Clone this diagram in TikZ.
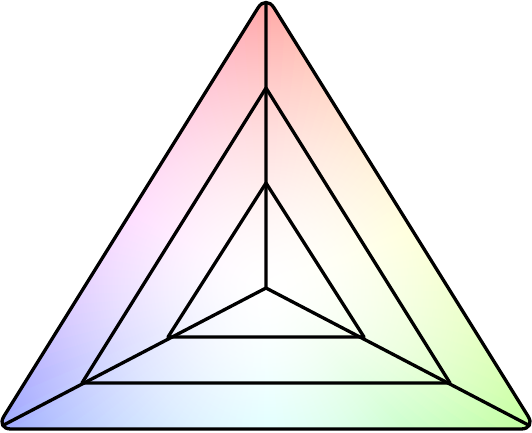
\documentclass[tikz,border=0pt]{standalone}
\usetikzlibrary{calc}
\begin{document}
\begin{tikzpicture}[x=1bp,y=-1bp,line width=3.3bp,line join=round,
  edge/.style={draw=black},
  outer/.style={draw=black,rounded corners=15bp},
  layer/.style={inner sep=0pt,outer sep=0pt,anchor=center}]
\useasboundingbox (0,0) rectangle (532,433);
\coordinate (O) at (266,288);
\coordinate (A1) at (266,-5);
\coordinate (B1) at (-4,429);
\coordinate (C1) at (536,429);
\coordinate (A2) at (266,88);
\coordinate (B2) at (82,383);
\coordinate (C2) at (450,383);
\coordinate (A3) at (266,183);
\coordinate (B3) at (168,337);
\coordinate (C3) at (364,337);
\begin{scope}
  \clip[rounded corners=15bp] ($(A1)!0.5!(B1)$) -- (B1) -- (C1) -- (A1) -- cycle;
  \fill[white] (-10,-10) rectangle (545,445);
  \foreach \k in {0,...,119}{%
    \pgfmathsetmacro\al{mod(3*\k+90,360)}%
    \pgfmathsetmacro\hu{\al<60 ? \al/60*53 : (\al<118 ? 53+(\al-60)/58*44 : (\al<180 ? 97+(\al-118)/62*83 : (\al<242 ? 180+(\al-180)/62*52 : (\al<300 ? 232+(\al-242)/58*68 : \al))))}%
    \pgfmathsetmacro\hh{\hu/360}%
    \definecolor{tmphue}{hsb}{\hh,1,1}%
    \colorlet{huek}[rgb]{tmphue}%
    \pgfdeclareradialshading{wedge\k}{\pgfpointorigin}{color(0bp)=(white); color(25bp)=(huek!0.7!white); color(50bp)=(huek!2.2!white); color(75bp)=(huek!4.1!white); color(100bp)=(huek!6.6!white); color(150bp)=(huek!12.5!white); color(200bp)=(huek!19.9!white); color(250bp)=(huek!28.4!white); color(300bp)=(huek!38!white); color(350bp)=(huek!48.7!white); color(400bp)=(huek!60!white)}%
    \begin{scope}
      \clip (O) -- ($(O)+({3*\k-1.9}:700)$) -- ($(O)+({3*\k+1.9}:700)$) -- cycle;
      \node[layer] (w\k) at (O) {\pgfuseshading{wedge\k}};
    \end{scope}
  }
\end{scope}
\draw[edge] (O) -- ($(O)!0.97!(A1)$);
\draw[edge] (O) -- ($(O)!0.97!(B1)$);
\draw[edge] (O) -- ($(O)!0.97!(C1)$);
\draw[edge] (A3) -- (B3) -- (C3) -- cycle;
\draw[edge] (A2) -- (B2) -- (C2) -- cycle;
\draw[outer] ($(A1)!0.5!(B1)$) -- (B1) -- (C1) -- (A1) -- cycle;
\end{tikzpicture}
\end{document}
